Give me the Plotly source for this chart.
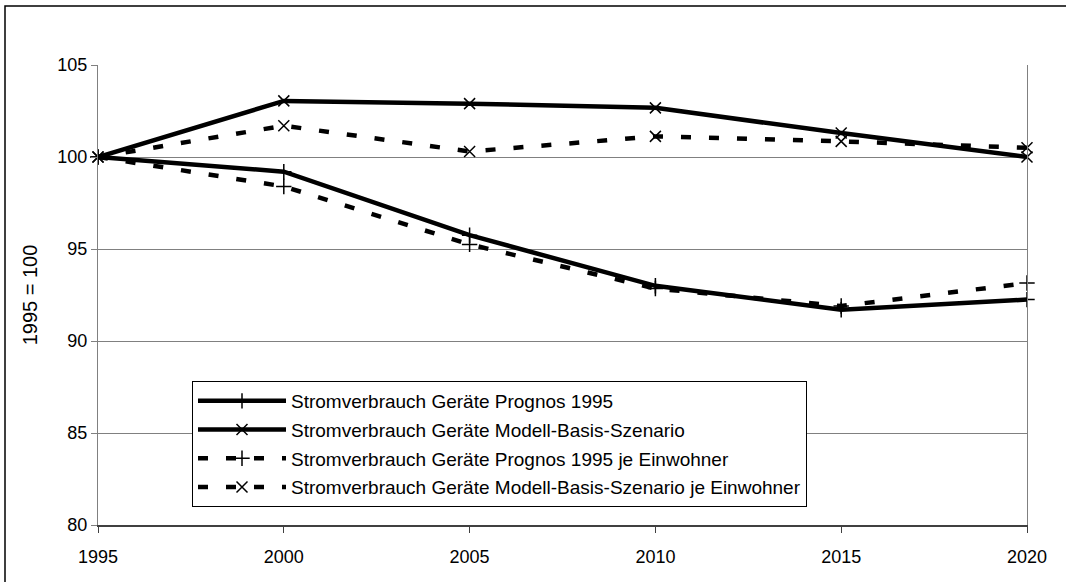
import plotly.graph_objects as go

years = [1995, 2000, 2005, 2010, 2015, 2020]

prognos_1995 = [100, 99.2, 95.75, 93.0, 91.7, 92.25]
modell_basis = [100, 103.05, 102.9, 102.67, 101.3, 100.0]
prognos_1995_ew = [100, 98.4, 95.25, 92.85, 91.9, 93.15]
modell_basis_ew = [100, 101.7, 100.3, 101.12, 100.85, 100.5]

names = [
    "Stromverbrauch Geräte Prognos 1995",
    "Stromverbrauch Geräte Modell-Basis-Szenario",
    "Stromverbrauch Geräte Prognos 1995 je Einwohner",
    "Stromverbrauch Geräte Modell-Basis-Szenario je Einwohner",
]
y_ticks = [80, 85, 90, 95, 100, 105]

series = [prognos_1995, modell_basis, prognos_1995_ew, modell_basis_ew]
symbols = ["cross-thin", "x-thin", "cross-thin", "x-thin"]
dashes = ["solid", "solid", "10px,18px", "10px,18px"]

fig = go.Figure()
for i, (vals, name) in enumerate(zip(series, names)):
    fig.add_trace(
        go.Scatter(
            x=years,
            y=vals,
            name=name,
            mode="lines+markers",
            legendgroup=f"g{i}",
            line=dict(color="black", width=4.5, dash=dashes[i]),
            marker=dict(
                symbol=symbols[i],
                size=11,
                color="black",
                line=dict(color="black", width=1.5),
            ),
            cliponaxis=False,
        )
    )

# plot area in pixels: x 98..1027, y 65..525
px_w, px_h = 929, 460


def px(x):
    return (x - 98) / px_w


def py(y):
    return (525 - y) / px_h


fig.add_shape(
    type="rect",
    xref="paper",
    yref="paper",
    x0=px(5),
    x1=px(1075),
    y0=py(590),
    y1=py(6),
    line=dict(color="black", width=1.5),
    layer="below",
)

fig.update_layout(
    width=1066,
    height=582,
    margin=dict(l=98, r=39, t=65, b=57),
    paper_bgcolor="white",
    plot_bgcolor="white",
    font=dict(family="Liberation Sans, Arial", size=18, color="black"),
    showlegend=True,
    legend=dict(
        x=px(192),
        y=py(381),
        xanchor="left",
        yanchor="top",
        bgcolor="white",
        bordercolor="black",
        borderwidth=1,
        font=dict(size=19),
        traceorder="grouped",
        tracegroupgap=1,
        itemwidth=88,
    ),
)

fig.update_xaxes(
    range=[1995, 2020],
    tickvals=years,
    ticks="outside",
    ticklen=6,
    tickcolor="#404040",
    ticklabelstandoff=8,
    showgrid=False,
    showline=True,
    linecolor="#404040",
    linewidth=2,
    zeroline=False,
)
fig.update_yaxes(
    range=[80, 105],
    tickvals=y_ticks,
    ticks="outside",
    ticklen=6,
    tickcolor="#808080",
    showgrid=True,
    gridcolor="#808080",
    gridwidth=1,
    showline=True,
    linecolor="#808080",
    linewidth=1,
    mirror=True,
    zeroline=False,
    title=dict(text="1995 = 100", font=dict(size=20), standoff=14),
)

fig.write_html(
    "out.html",
    config={"displayModeBar": False},
    post_script="document.body.style.margin='0';",
)
